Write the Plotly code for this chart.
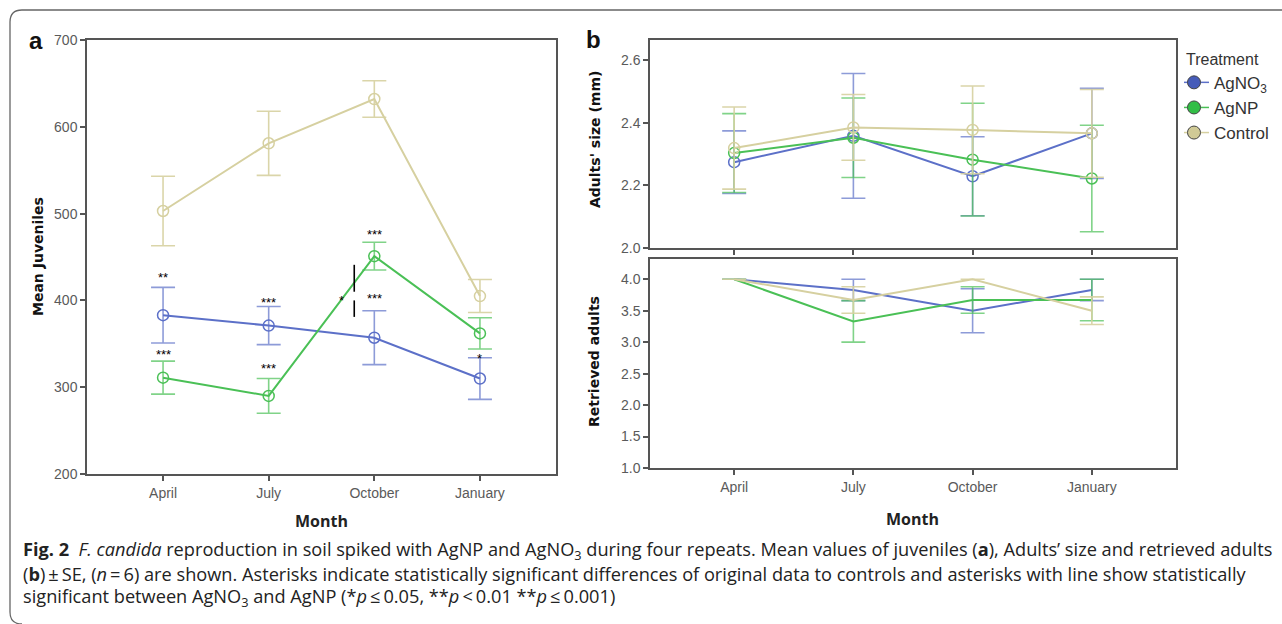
import plotly.graph_objects as go

W, H = 1282, 624

months = ["April", "July", "October", "January"]
treatments = ["AgNO<sub>3</sub>", "AgNP", "Control"]

# Panel a: mean juveniles +- SE
juv_agno3 = [383, 371, 357, 310]
juv_agno3_se = [32, 22, 31, 24]
juv_agnp = [311, 290, 451, 362]
juv_agnp_se = [19, 20, 16, 18]
juv_ctrl = [503, 581, 632, 405]
juv_ctrl_se = [40, 37, 21, 19]

# Panel b top: adults' size (mm) +- SE
size_agno3 = [2.274, 2.358, 2.229, 2.366]
size_agno3_se = [0.100, 0.199, 0.126, 0.144]
size_agnp = [2.303, 2.352, 2.282, 2.222]
size_agnp_se = [0.126, 0.127, 0.180, 0.170]
size_ctrl = [2.319, 2.385, 2.377, 2.366]
size_ctrl_se = [0.131, 0.105, 0.140, 0.140]

# Panel b bottom: retrieved adults +- SE
ret_agno3 = [4.0, 3.83, 3.5, 3.83]
ret_agno3_se = [0.0, 0.17, 0.35, 0.17]
ret_agnp = [4.0, 3.33, 3.67, 3.67]
ret_agnp_se = [0.0, 0.33, 0.21, 0.33]
ret_ctrl = [4.0, 3.67, 4.0, 3.5]
ret_ctrl_se = [0.0, 0.21, 0.0, 0.22]

# significance marks in panel a (category index, value)
sig_text = ["**", "***", "***", "***", "***", "***", "*", "*"]
sig_x = [0, 0, 1, 1, 2, 2, 3, 1.69]
sig_y = [426, 338, 398, 322, 476, 402, 333, 400]
# bracket line between AgNO3 and AgNP in October
bar_x = 1.81
bar_segments = [(410, 441), (381, 400)]

line_cols = ["rgb(92,112,200)", "rgb(74,192,86)", "rgb(214,208,160)"]
err_cols = ["rgba(92,112,200,0.7)", "rgba(74,192,86,0.7)", "rgba(214,208,160,0.9)"]
leg_fill = ["rgb(70,92,185)", "rgb(50,190,70)", "rgb(208,202,150)"]

AX = "#555555"
TICKC = "#5a5a5a"


def px(x):
    return x / W


def py(y):
    return 1 - y / H


fig = go.Figure()

xi = list(range(len(months)))


def add_panel(vals, ses, xa, ya, markers=True):
    for k, (v, s) in enumerate(zip(vals, ses)):
        fig.add_trace(go.Scatter(
            x=xi, y=v, xaxis=xa, yaxis=ya,
            mode="lines+markers" if markers else "lines",
            line=dict(color=line_cols[k], width=2),
            marker=dict(symbol="circle-open", size=11, color=line_cols[k], line=dict(width=1.5)),
            error_y=dict(type="data", array=s, visible=True, color=err_cols[k], thickness=1.6, width=12),
            showlegend=False, hoverinfo="skip",
        ))


add_panel([juv_agno3, juv_agnp, juv_ctrl], [juv_agno3_se, juv_agnp_se, juv_ctrl_se], "x", "y")
add_panel([size_agno3, size_agnp, size_ctrl], [size_agno3_se, size_agnp_se, size_ctrl_se], "x2", "y2")
add_panel([ret_agno3, ret_agnp, ret_ctrl], [ret_agno3_se, ret_agnp_se, ret_ctrl_se], "x3", "y3", markers=False)

# legend-only traces
for k, name in enumerate(treatments):
    fig.add_trace(go.Scatter(
        x=[None], y=[None], xaxis="x2", yaxis="y2", mode="lines+markers", name=name,
        line=dict(color=line_cols[k], width=1.5),
        marker=dict(symbol="circle", size=13, color=leg_fill[k], line=dict(color="#444", width=1)),
        showlegend=True,
    ))

axis_common = dict(showline=True, linecolor=AX, linewidth=1.5, mirror=True, ticks="outside",
                   ticklen=5, tickcolor=AX, tickwidth=1.5, showgrid=False, zeroline=False,
                   tickfont=dict(family="Liberation Sans, Arial", size=14, color=TICKC))

fig.update_layout(
    width=W, height=H, autosize=False, margin=dict(l=0, r=0, t=0, b=0, autoexpand=False),
    paper_bgcolor="white", plot_bgcolor="white",
    xaxis=dict(domain=[px(87), px(556)], range=[-0.72, 3.72], anchor="y",
               tickmode="array", tickvals=xi, ticktext=months, **axis_common),
    yaxis=dict(domain=[py(474), py(40)], range=[200, 700], anchor="x",
               tickmode="array", tickvals=[200, 300, 400, 500, 600, 700], **axis_common),
    xaxis2=dict(domain=[px(650), px(1176)], range=[-0.706, 3.706], anchor="y2",
                tickmode="array", tickvals=xi, showticklabels=False, **axis_common),
    yaxis2=dict(domain=[py(248), py(40)], range=[2.0, 2.664], anchor="x2",
                tickmode="array", tickvals=[2.0, 2.2, 2.4, 2.6], tickformat=".1f", **axis_common),
    xaxis3=dict(domain=[px(650), px(1176)], range=[-0.706, 3.706], anchor="y3",
                tickmode="array", tickvals=xi, ticktext=months, **axis_common),
    yaxis3=dict(domain=[py(468), py(259)], range=[1.0, 4.322], anchor="x3",
                tickmode="array", tickvals=[1.0, 1.5, 2.0, 2.5, 3.0, 3.5, 4.0], tickformat=".1f",
                **axis_common),
    legend=dict(x=px(1184), y=py(44), xanchor="left", yanchor="top",
                title=dict(text="Treatment", font=dict(family="Liberation Sans, Arial", size=16, color="#333")),
                font=dict(family="Liberation Sans, Arial", size=17, color="#333"),
                bgcolor="rgba(0,0,0,0)", borderwidth=0, tracegroupgap=0, indentation=-10),
    showlegend=True,
)

annotations = []
for t, x, y in zip(sig_text, sig_x, sig_y):
    annotations.append(dict(x=x, y=y, xref="x", yref="y", text=t, showarrow=False,
                            xanchor="center", yanchor="middle",
                            font=dict(family="Liberation Sans, Arial", size=13, color="black")))

shapes = []
for y0, y1 in bar_segments:
    shapes.append(dict(type="line", xref="x", yref="y", x0=bar_x, x1=bar_x, y0=y0, y1=y1,
                       line=dict(color="black", width=1.6)))


def pa(x, y, text, font, angle=0, xanchor="center"):
    return dict(x=px(x), y=py(y), xref="paper", yref="paper", text=text, textangle=angle,
                showarrow=False, xanchor=xanchor, yanchor="middle", font=font)


# axis titles and panel letters
title_font = dict(family="DejaVu Sans", size=14, color="#111")
month_font = dict(family="Open Sans", size=16, color="#222")
letter_font = dict(family="Liberation Sans, Arial", size=24, color="#111")
annotations += [
    pa(38, 257, "<b>Mean Juveniles</b>", title_font, -90),
    pa(595, 140, "<b>Adults' size (mm)</b>", title_font, -90),
    pa(594, 362, "<b>Retrieved adults</b>", title_font, -90),
    pa(321.5, 521, "<b>Month</b>", month_font),
    pa(913, 519, "<b>Month</b>", month_font),
    pa(36, 40, "<b>a</b>", letter_font),
    pa(593, 39, "<b>b</b>", letter_font),
]

caption_lines = [
    "<b>Fig. 2</b>  <i>F. candida</i> reproduction in soil spiked with AgNP and AgNO<sub>3</sub> during four repeats. "
    "Mean values of juveniles (<b>a</b>), Adults\u2019 size and retrieved adults",
    "(<b>b</b>)\u2009\u00b1\u2009SE, (<i>n</i>\u2009=\u20096) are shown. Asterisks indicate statistically significant "
    "differences of original data to controls and asterisks with line show statistically",
    "significant between AgNO<sub>3</sub> and AgNP (*<i>p</i>\u2009\u2264\u20090.05, **<i>p</i>\u2009<\u20090.01 "
    "**<i>p</i>\u2009\u2264\u20090.001)",
]
caption_y = [550, 574, 597]
cap_font = dict(family="Open Sans", size=18.2, color="#222")
for line, yy in zip(caption_lines, caption_y):
    annotations.append(pa(21, yy, line, cap_font, xanchor="left"))

# rounded outer frame of the figure box
r = 12
fx0, fy0, fy1, fx1 = 10, 10, 624, 1300
path = (f"M {px(fx1)},{py(fy0)} L {px(fx0 + r)},{py(fy0)} Q {px(fx0)},{py(fy0)} {px(fx0)},{py(fy0 + r)} "
        f"L {px(fx0)},{py(fy1 - r)} Q {px(fx0)},{py(fy1)} {px(fx0 + r)},{py(fy1)}")
shapes.append(dict(type="path", xref="paper", yref="paper", path=path,
                   line=dict(color="#666", width=1.3)))

fig.update_layout(annotations=annotations, shapes=shapes)

fig.write_html("out.html",
               config={"responsive": False, "displayModeBar": False},
               post_script="document.body.style.margin='0';document.body.style.overflow='hidden';")
